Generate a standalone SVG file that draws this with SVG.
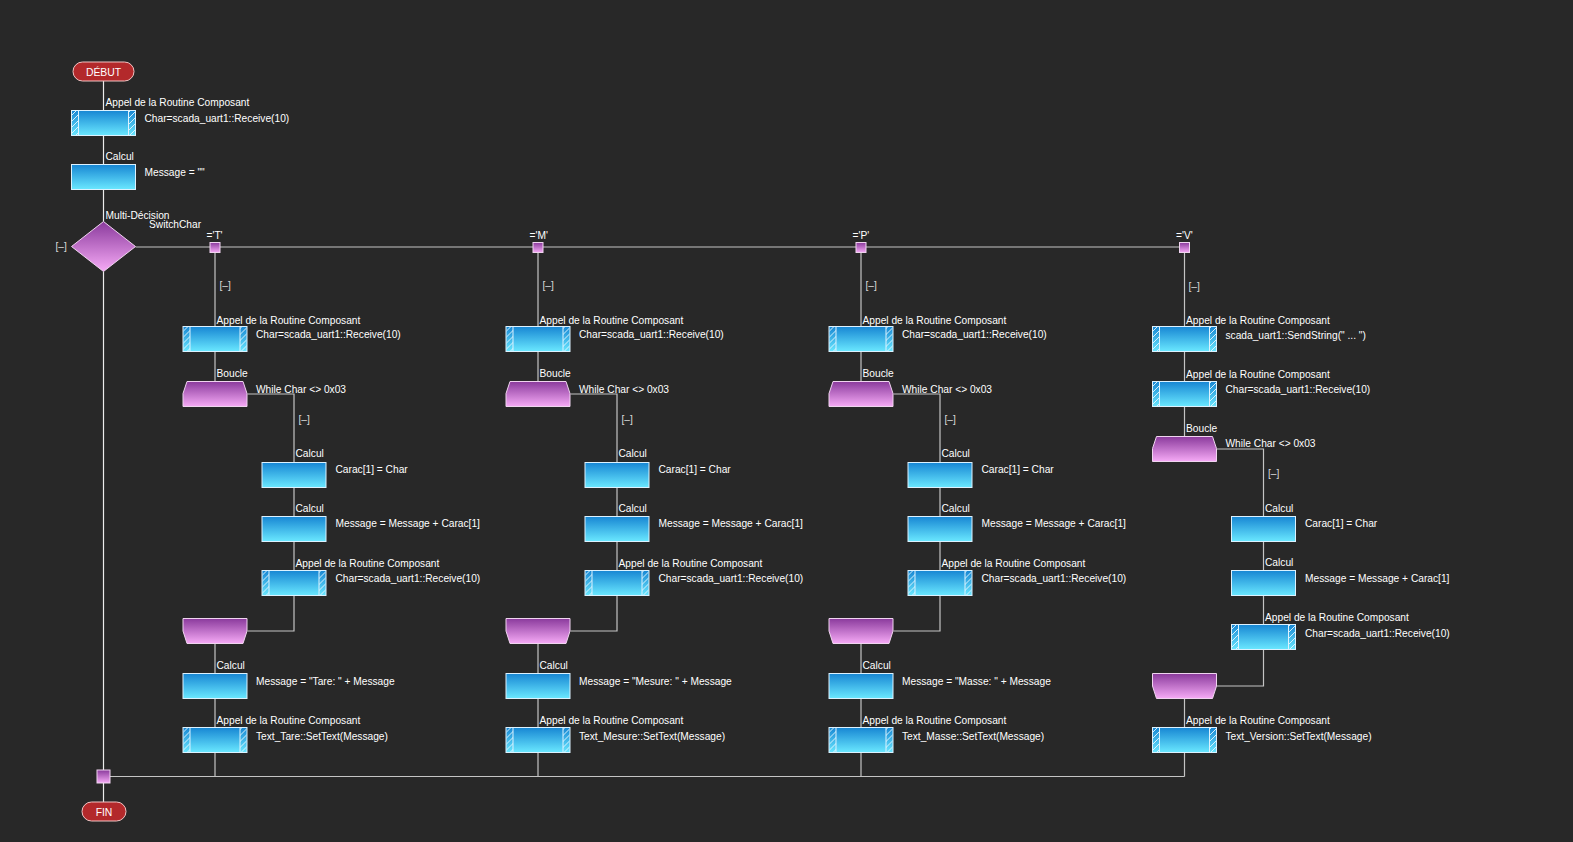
<svg xmlns="http://www.w3.org/2000/svg" xmlns:xlink="http://www.w3.org/1999/xlink" width="1573" height="842" viewBox="0 0 1573 842">
<style>
text{font-family:"Liberation Sans",Arial,sans-serif;font-size:10.2px;fill:#ffffff}
.br{fill:#d8d8d8}
.pt{font-size:10.4px;text-anchor:middle}
.ln{fill:none;stroke:#c4c4c4;stroke-width:1.2}
.mn{fill:none;stroke:#ececec;stroke-width:1.2}
.pill{fill:#b3292b;stroke:#f2c4c4;stroke-width:1}
.sq{fill:url(#gp);stroke:#f0d4f0;stroke-width:1}
</style>
<defs>
<linearGradient id="gb" x1="0" y1="0" x2="0" y2="1">
<stop offset="0" stop-color="#1786d3"/>
<stop offset="1" stop-color="#6ae8ff"/>
</linearGradient>
<linearGradient id="gp" x1="0" y1="0" x2="0" y2="1">
<stop offset="0" stop-color="#8a3a9c"/>
<stop offset="1" stop-color="#f6aaf6"/>
</linearGradient>
<pattern id="hatch" patternUnits="userSpaceOnUse" width="6" height="6">
<path d="M-1,1 L1,-1 M0,6 L6,0 M5,7 L7,5" stroke="#e8f8ff" stroke-width="0.9"/>
</pattern>
<g id="calc">
<rect x="0.5" y="0.5" width="64" height="25" fill="url(#gb)" stroke="#dcf2ff" stroke-width="1"/>
</g>
<g id="call">
<rect x="0.5" y="0.5" width="64" height="25" fill="url(#gb)" stroke="#dcf2ff" stroke-width="1"/>
<rect x="1" y="1" width="6.5" height="24" fill="url(#hatch)"/>
<rect x="57.5" y="1" width="6.5" height="24" fill="url(#hatch)"/>
<path d="M7.5,0.5 V25.5 M57.5,0.5 V25.5" stroke="#dcf2ff" stroke-width="1"/>
</g>
<g id="loopS">
<polygon points="4.5,0.5 60.5,0.5 64.5,12.5 64.5,25.5 0.5,25.5 0.5,12.5" fill="url(#gp)" stroke="#f0d4f0" stroke-width="1"/>
</g>
<g id="loopE">
<polygon points="0.5,0.5 64.5,0.5 64.5,13 60.5,25.5 4.5,25.5 0.5,13" fill="url(#gp)" stroke="#f0d4f0" stroke-width="1"/>
</g>
</defs>
<rect x="0" y="0" width="1573" height="842" fill="#282828"/>

<g id="connectors">
<path class="mn" d="M103.5,81 V110 M103.5,136 V164 M103.5,190 V221.5 M103.5,271.5 V770 M103.5,783 V802"/>
<path class="ln" d="M135.5,247 H1184.5 M110,776.5 H1184.5"/>
<!-- T -->
<path class="ln" d="M215,252.5 V326 M215,352 V381 M247.5,394 H294 V462 M294,488 V516 M294,542 V570 M294,596 V631 H247.5 M215,644 V673 M215,699 V727 M215,753 V776.5"/>
<!-- M -->
<path class="ln" d="M538,252.5 V326 M538,352 V381 M570.5,394 H617 V462 M617,488 V516 M617,542 V570 M617,596 V631 H570.5 M538,644 V673 M538,699 V727 M538,753 V776.5"/>
<!-- P -->
<path class="ln" d="M861,252.5 V326 M861,352 V381 M893.5,394 H940 V462 M940,488 V516 M940,542 V570 M940,596 V631 H893.5 M861,644 V673 M861,699 V727 M861,753 V776.5"/>
<!-- V -->
<path class="ln" d="M1184.5,252.5 V326 M1184.5,352 V381 M1184.5,407 V436 M1217,449 H1263.5 V516 M1263.5,542 V570 M1263.5,596 V624 M1263.5,650 V686 H1217 M1184.5,699 V727 M1184.5,753 V776.5"/>
</g>

<g id="debut">
<rect class="pill" x="73" y="62" width="61" height="19" rx="9.5"/>
<text class="pt" x="103.5" y="75.5">DÉBUT</text>
</g>
<g id="n1">
<text x="105.5" y="105.5">Appel de la Routine Composant</text>
<use xlink:href="#call" x="71" y="110"/>
<text x="144.5" y="121.5">Char=scada_uart1::Receive(10)</text>
</g>
<g id="n2">
<text x="105.5" y="160">Calcul</text>
<use xlink:href="#calc" x="71" y="164"/>
<text x="144.5" y="175.5">Message = ""</text>
</g>
<g id="decision">
<text x="105.5" y="219">Multi-Décision</text>
<text x="149" y="228">SwitchChar</text>
<polygon points="103.5,221.5 135.5,246.5 103.5,271.5 71.5,246.5" fill="url(#gp)" stroke="#f0d4f0" stroke-width="1"/>
<text class="br" x="55.5" y="250">[–]</text>
</g>
<g id="caseT">
<rect class="sq" x="210" y="242.5" width="10" height="10"/>
<text x="206.5" y="239">='T'</text>
<text class="br" x="219.5" y="289">[–]</text>
</g>
<g id="caseM">
<rect class="sq" x="533" y="242.5" width="10" height="10"/>
<text x="529.5" y="239">='M'</text>
<text class="br" x="542.5" y="289">[–]</text>
</g>
<g id="caseP">
<rect class="sq" x="856" y="242.5" width="10" height="10"/>
<text x="852.5" y="239">='P'</text>
<text class="br" x="865.5" y="289">[–]</text>
</g>
<g id="caseV">
<rect class="sq" x="1179.5" y="242.5" width="10" height="10"/>
<text x="1176" y="239">='V'</text>
<text class="br" x="1188.5" y="290">[–]</text>
</g>

<!-- Branch T -->
<g id="t1"><text x="216.5" y="324">Appel de la Routine Composant</text><use xlink:href="#call" x="182.5" y="326"/><text x="256" y="338">Char=scada_uart1::Receive(10)</text></g>
<g id="t2"><text x="216.5" y="377">Boucle</text><use xlink:href="#loopS" x="182.5" y="381"/><text x="256" y="392.5">While Char &lt;&gt; 0x03</text><text class="br" x="298.5" y="423">[–]</text></g>
<g id="t3"><text x="295.5" y="457">Calcul</text><use xlink:href="#calc" x="261.5" y="462"/><text x="335.5" y="473">Carac[1] = Char</text></g>
<g id="t4"><text x="295.5" y="512">Calcul</text><use xlink:href="#calc" x="261.5" y="516"/><text x="335.5" y="527">Message = Message + Carac[1]</text></g>
<g id="t5"><text x="295.5" y="566.5">Appel de la Routine Composant</text><use xlink:href="#call" x="261.5" y="570"/><text x="335.5" y="582">Char=scada_uart1::Receive(10)</text></g>
<g id="t6"><use xlink:href="#loopE" x="182.5" y="618"/></g>
<g id="t7"><text x="216.5" y="669">Calcul</text><use xlink:href="#calc" x="182.5" y="673"/><text x="256" y="685">Message = "Tare: " + Message</text></g>
<g id="t8"><text x="216.5" y="724">Appel de la Routine Composant</text><use xlink:href="#call" x="182.5" y="727"/><text x="256" y="740">Text_Tare::SetText(Message)</text></g>

<!-- Branch M -->
<g id="m1"><text x="539.5" y="324">Appel de la Routine Composant</text><use xlink:href="#call" x="505.5" y="326"/><text x="579" y="338">Char=scada_uart1::Receive(10)</text></g>
<g id="m2"><text x="539.5" y="377">Boucle</text><use xlink:href="#loopS" x="505.5" y="381"/><text x="579" y="392.5">While Char &lt;&gt; 0x03</text><text class="br" x="621.5" y="423">[–]</text></g>
<g id="m3"><text x="618.5" y="457">Calcul</text><use xlink:href="#calc" x="584.5" y="462"/><text x="658.5" y="473">Carac[1] = Char</text></g>
<g id="m4"><text x="618.5" y="512">Calcul</text><use xlink:href="#calc" x="584.5" y="516"/><text x="658.5" y="527">Message = Message + Carac[1]</text></g>
<g id="m5"><text x="618.5" y="566.5">Appel de la Routine Composant</text><use xlink:href="#call" x="584.5" y="570"/><text x="658.5" y="582">Char=scada_uart1::Receive(10)</text></g>
<g id="m6"><use xlink:href="#loopE" x="505.5" y="618"/></g>
<g id="m7"><text x="539.5" y="669">Calcul</text><use xlink:href="#calc" x="505.5" y="673"/><text x="579" y="685">Message = "Mesure: " + Message</text></g>
<g id="m8"><text x="539.5" y="724">Appel de la Routine Composant</text><use xlink:href="#call" x="505.5" y="727"/><text x="579" y="740">Text_Mesure::SetText(Message)</text></g>

<!-- Branch P -->
<g id="p1"><text x="862.5" y="324">Appel de la Routine Composant</text><use xlink:href="#call" x="828.5" y="326"/><text x="902" y="338">Char=scada_uart1::Receive(10)</text></g>
<g id="p2"><text x="862.5" y="377">Boucle</text><use xlink:href="#loopS" x="828.5" y="381"/><text x="902" y="392.5">While Char &lt;&gt; 0x03</text><text class="br" x="944.5" y="423">[–]</text></g>
<g id="p3"><text x="941.5" y="457">Calcul</text><use xlink:href="#calc" x="907.5" y="462"/><text x="981.5" y="473">Carac[1] = Char</text></g>
<g id="p4"><text x="941.5" y="512">Calcul</text><use xlink:href="#calc" x="907.5" y="516"/><text x="981.5" y="527">Message = Message + Carac[1]</text></g>
<g id="p5"><text x="941.5" y="566.5">Appel de la Routine Composant</text><use xlink:href="#call" x="907.5" y="570"/><text x="981.5" y="582">Char=scada_uart1::Receive(10)</text></g>
<g id="p6"><use xlink:href="#loopE" x="828.5" y="618"/></g>
<g id="p7"><text x="862.5" y="669">Calcul</text><use xlink:href="#calc" x="828.5" y="673"/><text x="902" y="685">Message = "Masse: " + Message</text></g>
<g id="p8"><text x="862.5" y="724">Appel de la Routine Composant</text><use xlink:href="#call" x="828.5" y="727"/><text x="902" y="740">Text_Masse::SetText(Message)</text></g>

<!-- Branch V -->
<g id="v1"><text x="1186" y="324">Appel de la Routine Composant</text><use xlink:href="#call" x="1152" y="326"/><text x="1225.5" y="339">scada_uart1::SendString(" ... ")</text></g>
<g id="v2"><text x="1186" y="378">Appel de la Routine Composant</text><use xlink:href="#call" x="1152" y="381"/><text x="1225.5" y="392.5">Char=scada_uart1::Receive(10)</text></g>
<g id="v3"><text x="1186" y="432">Boucle</text><use xlink:href="#loopS" x="1152" y="436"/><text x="1225.5" y="447">While Char &lt;&gt; 0x03</text><text class="br" x="1268" y="477">[–]</text></g>
<g id="v4"><text x="1265" y="512">Calcul</text><use xlink:href="#calc" x="1231" y="516"/><text x="1305" y="527">Carac[1] = Char</text></g>
<g id="v5"><text x="1265" y="566">Calcul</text><use xlink:href="#calc" x="1231" y="570"/><text x="1305" y="582">Message = Message + Carac[1]</text></g>
<g id="v6"><text x="1265" y="620.5">Appel de la Routine Composant</text><use xlink:href="#call" x="1231" y="624"/><text x="1305" y="636.5">Char=scada_uart1::Receive(10)</text></g>
<g id="v7"><use xlink:href="#loopE" x="1152" y="673"/></g>
<g id="v8"><text x="1186" y="724">Appel de la Routine Composant</text><use xlink:href="#call" x="1152" y="727"/><text x="1225.5" y="740">Text_Version::SetText(Message)</text></g>

<g id="join">
<rect class="sq" x="97" y="770" width="13" height="13"/>
</g>
<g id="fin">
<rect class="pill" x="82" y="802" width="44" height="19" rx="9.5"/>
<text class="pt" x="104" y="815.5">FIN</text>
</g>
</svg>
